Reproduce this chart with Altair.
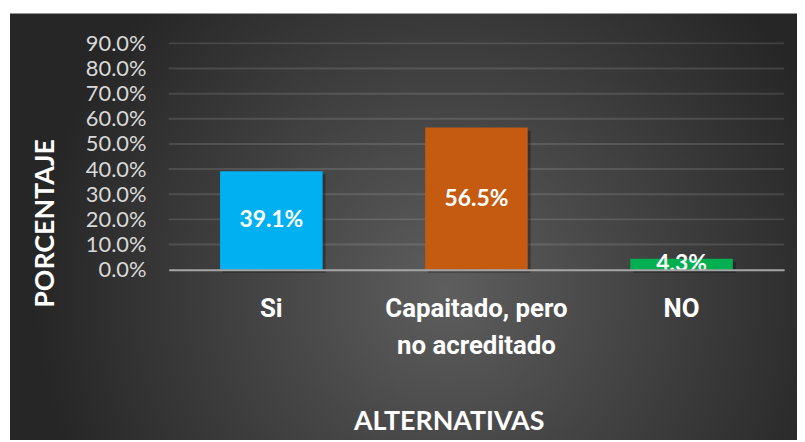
import altair as alt
import pandas as pd

categories = ["Si", "Capaitado, pero no acreditado", "NO"]
values = [0.391, 0.565, 0.043]
bar_colors = ["#00B0F0", "#C55A11", "#00B050"]
label_texts = ["39.1%", "56.5%", "4.3%"]
grid_values = [0.1, 0.2, 0.3, 0.4, 0.5, 0.6, 0.7, 0.8, 0.9]
tick_values = [0.0, 0.1, 0.2, 0.3, 0.4, 0.5, 0.6, 0.7, 0.8, 0.9]

df = pd.DataFrame({"cat": categories, "v": values, "lab": label_texts})
grid_df = pd.DataFrame({"g": grid_values})
bg_df = pd.DataFrame({"a": [0]})

W, H = 620, 228

x_enc = alt.X(
    "cat:N",
    sort=categories,
    scale=alt.Scale(paddingInner=0.5, paddingOuter=0.25),
    axis=alt.Axis(
        title="ALTERNATIVAS",
        labelExpr="datum.value == 'Capaitado, pero no acreditado' ? ['Capaitado, pero', 'no acreditado'] : datum.value",
        labelAngle=0,
        labelFont="Roboto",
        labelFontWeight="bold",
        labelFontSize=26,
        labelColor="#ffffff",
        labelLineHeight=37,
        labelPadding=26,
        labelLimit=0,
        labelOverlap=False,
        ticks=False,
        domainColor="#a6a6a6",
        domainWidth=2,
        zindex=1,
        titleFont="Lato",
        titleFontWeight="bold",
        titleFontSize=27,
        titleColor="#ffffff",
        titleX=282,
        titleY=161,
        titleAlign="center",
        titleBaseline="alphabetic",
    ),
)

y_scale = alt.Scale(domain=[0, 0.9], nice=False)
y_axis = alt.Axis(
    title="PORCENTAJE",
    values=tick_values,
    format=".1%",
    grid=False,
    domain=False,
    ticks=False,
    zindex=1,
    labelFont="Lato",
    labelFontSize=22,
    labelColor="#d9d9d9",
    labelPadding=23,
    titleFont="Lato",
    titleFontWeight="bold",
    titleFontSize=27,
    titleColor="#ffffff",
    titleAngle=270,
    titleX=-116,
    titleY=181,
    titleAlign="center",
    titleBaseline="alphabetic",
)

bg = alt.Chart(bg_df).mark_rect(
    color=alt.RadialGradient(
        gradient="radial",
        stops=[
            alt.GradientStop(color="#5e5e5e", offset=0),
            alt.GradientStop(color="#474747", offset=0.4),
            alt.GradientStop(color="#262626", offset=1),
        ],
        x1=0.55, y1=0.58, r1=0,
        x2=0.55, y2=0.58, r2=0.52,
    )
).encode(
    x=alt.value(-160), x2=alt.value(640), y=alt.value(-30), y2=alt.value(400)
)

grid = alt.Chart(grid_df).mark_rule(color="#ffffff", opacity=0.12, strokeWidth=2).encode(
    y=alt.Y("g:Q", scale=y_scale, axis=y_axis),
    x=alt.value(0),
    x2=alt.value(W),
)

shadow = alt.Chart(df).mark_bar(color="#000000", opacity=0.3, xOffset=3, yOffset=3).encode(
    x=x_enc,
    y=alt.Y("v:Q", scale=y_scale, axis=y_axis),
)

bars = alt.Chart(df).mark_bar().encode(
    x=x_enc,
    y=alt.Y("v:Q", scale=y_scale, axis=y_axis),
    color=alt.Color("cat:N", scale=alt.Scale(domain=categories, range=bar_colors), legend=None),
)

labels = alt.Chart(df).transform_calculate(mid="datum.v / 2").mark_text(
    font="Lato", fontWeight="bold", fontSize=23, color="#ffffff", baseline="middle", align="center"
).encode(
    x=alt.X("cat:N", sort=categories),
    y=alt.Y("mid:Q", scale=y_scale, axis=y_axis),
    text="lab:N",
)

chart = alt.layer(bg, grid, shadow, bars, labels).properties(
    width=W,
    height=H,
    autosize=alt.AutoSizeParams(type="none"),
    padding={"left": 162, "top": 34, "right": 13, "bottom": 170},
    background="#ffffff",
).configure_view(stroke=None)

chart.save("out.html", embed_options={"renderer": "svg", "actions": False})
